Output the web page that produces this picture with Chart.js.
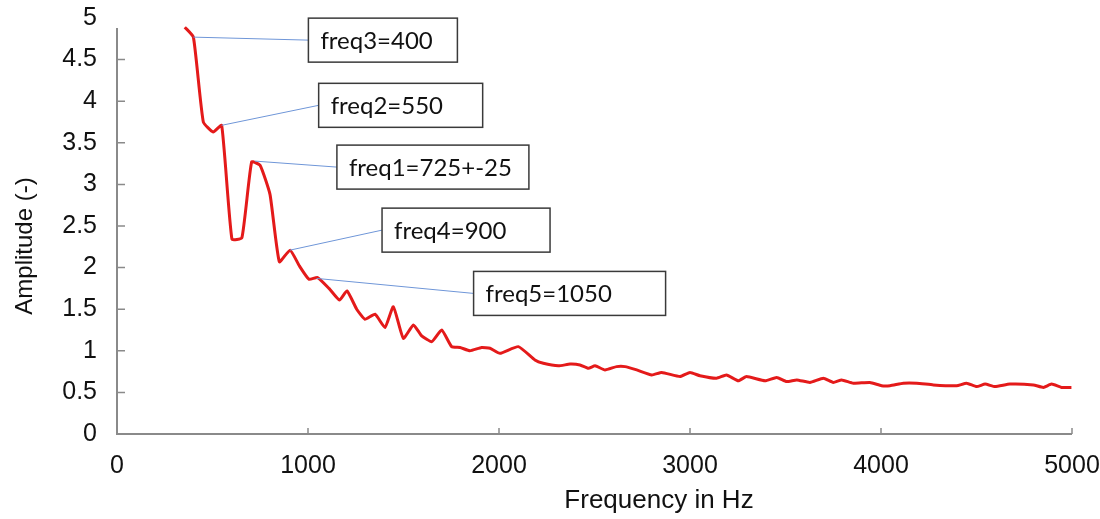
<!DOCTYPE html>
<html>
<head>
<meta charset="utf-8">
<script src="https://cdn.jsdelivr.net/npm/chart.js@4"></script>
<style>
  html, body { margin: 0; padding: 0; background: #fff; }
  #wrap { width: 1100px; height: 519px; }
</style>
</head>
<body>
<div id="wrap"><canvas id="spectrum" width="1100" height="519"></canvas></div>
<script>
// --- Data ---
const freqHz = [355, 400, 452, 504, 548, 602, 654, 705, 749, 801, 850, 906, 955, 1005, 1050,
    1110, 1165, 1204, 1255, 1298, 1351, 1403, 1447, 1499, 1552, 1595, 1648, 1700, 1752, 1796,
    1848, 1909, 1953, 2005, 2101, 2188, 2232, 2311, 2372, 2424, 2468, 2503, 2555, 2616, 2660,
    2721, 2800, 2852, 2948, 3000, 3052, 3139, 3191, 3253, 3296, 3393, 3454, 3506, 3559, 3628,
    3698, 3750, 3794, 3855, 3942, 4003, 4047, 4117, 4187, 4274, 4396, 4448, 4501, 4545, 4597,
    4675, 4798, 4850, 4893, 4945, 4997];
const amplitude = [4.89, 4.77, 3.75, 3.63, 3.71, 2.34, 2.36, 3.27, 3.23, 2.88, 2.07, 2.21, 2.02, 1.86, 1.88,
    1.75, 1.61, 1.72, 1.50, 1.38, 1.44, 1.28, 1.53, 1.15, 1.31, 1.18, 1.11, 1.25, 1.05, 1.04,
    1.00, 1.04, 1.03, 0.97, 1.05, 0.89, 0.85, 0.82, 0.84, 0.83, 0.79, 0.82, 0.77, 0.81, 0.81,
    0.77, 0.71, 0.74, 0.69, 0.74, 0.70, 0.67, 0.71, 0.64, 0.69, 0.64, 0.68, 0.63, 0.65, 0.62,
    0.67, 0.62, 0.65, 0.61, 0.62, 0.58, 0.58, 0.61, 0.61, 0.59, 0.58, 0.61, 0.57, 0.60, 0.57,
    0.60, 0.59, 0.56, 0.60, 0.56, 0.56];

const xTicks = [0, 1000, 2000, 3000, 4000, 5000];
const yTicks = [0, 0.5, 1, 1.5, 2, 2.5, 3, 3.5, 4, 4.5, 5];

// callouts: text and the point on the curve they point to
const noteText = ['freq3=400', 'freq2=550', 'freq1=725+-25', 'freq4=900', 'freq5=1050'];
const noteFreq = [400, 548, 722, 906, 1045];
const noteAmp = [4.77, 3.71, 3.28, 2.21, 1.87];
// box placement (px, relative to the anchor point)
const noteBox = [
    { dx: 115, dy: 3, w: 149 },
    { dx: 97, dy: -20, w: 164 },
    { dx: 82, dy: 6, w: 192 },
    { dx: 92, dy: -20, w: 168 },
    { dx: 157, dy: 15, w: 192 }
];

const AXIS_FONT = "'Liberation Sans', Arial, sans-serif";
const AXIS_GREY = '#8a8a8a';

// --- Extra drawing: inner tick marks, axis lines, titles, callouts ---
const decorPlugin = {
    id: 'decor',
    afterDraw(chart) {
        const { ctx, chartArea, scales } = chart;
        const xs = scales.x, ys = scales.y;
        const x0 = xs.getPixelForValue(0);
        const y0 = ys.getPixelForValue(0);
        ctx.save();

        // axis lines
        ctx.strokeStyle = AXIS_GREY;
        ctx.lineWidth = 2;
        ctx.beginPath();
        ctx.moveTo(x0, chartArea.top + 10);
        ctx.lineTo(x0, y0);
        ctx.lineTo(xs.getPixelForValue(5000), y0);
        ctx.stroke();

        // tick marks pointing inward
        ctx.lineWidth = 1.5;
        ctx.beginPath();
        yTicks.slice(1, -1).forEach(v => {
            const py = ys.getPixelForValue(v);
            ctx.moveTo(x0, py);
            ctx.lineTo(x0 + 8, py);
        });
        xTicks.slice(1).forEach(v => {
            const px = xs.getPixelForValue(v);
            ctx.moveTo(px, y0);
            ctx.lineTo(px, y0 - 6);
        });
        ctx.stroke();

        // axis titles
        ctx.fillStyle = '#111';
        ctx.font = `26px ${AXIS_FONT}`;
        ctx.textAlign = 'center';
        ctx.textBaseline = 'middle';
        ctx.fillText('Frequency in Hz', 659, 501);
        ctx.save();
        ctx.translate(25, 246);
        ctx.rotate(-Math.PI / 2);
        ctx.font = `24px ${AXIS_FONT}`;
        ctx.fillText('Amplitude (-)', 0, 0);
        ctx.restore();

        // callouts
        noteText.forEach((txt, i) => {
            const ax = xs.getPixelForValue(noteFreq[i]);
            const ay = ys.getPixelForValue(noteAmp[i]);
            const b = noteBox[i];
            const bx = ax + b.dx, by = ay + b.dy;
            ctx.strokeStyle = '#6f96d8';
            ctx.lineWidth = 1;
            ctx.beginPath();
            ctx.moveTo(ax, ay);
            ctx.lineTo(bx, by);
            ctx.stroke();

            ctx.fillStyle = '#fff';
            ctx.fillRect(bx, by - 22, b.w, 44);
            ctx.strokeStyle = '#3a3a3a';
            ctx.lineWidth = 1.5;
            ctx.strokeRect(bx, by - 22, b.w, 44);

            ctx.fillStyle = '#111';
            ctx.font = "24px Lato, 'Open Sans', sans-serif";
            ctx.textAlign = 'left';
            ctx.textBaseline = 'middle';
            ctx.fillText(txt, bx + 12, by + 1);
        });
        ctx.restore();
    }
};

const points = freqHz.map((f, i) => ({ x: f, y: amplitude[i] }));

new Chart(document.getElementById('spectrum'), {
    type: 'line',
    data: {
        datasets: [{
            data: points,
            borderColor: '#e41a1a',
            borderWidth: 3,
            pointRadius: 0,
            tension: 0.15,
            fill: false
        }]
    },
    options: {
        responsive: false,
        animation: false,
        layout: { padding: { top: 18, right: 28, left: 0, bottom: 0 } },
        plugins: { legend: { display: false }, tooltip: { enabled: false } },
        scales: {
            x: {
                type: 'linear',
                min: 0, max: 5000,
                afterBuildTicks: s => { s.ticks = xTicks.map(v => ({ value: v })); },
                afterFit: s => { s.height = 85; s.paddingLeft = 0; s.paddingRight = 0; },
                grid: { display: false, drawTicks: false },
                border: { display: false },
                ticks: {
                    color: '#111',
                    padding: 17,
                    maxRotation: 0,
                    font: { family: AXIS_FONT, size: 25 },
                    callback: v => String(v)
                }
            },
            y: {
                type: 'linear',
                min: 0, max: 5,
                afterBuildTicks: s => { s.ticks = yTicks.map(v => ({ value: v })); },
                afterFit: s => { s.width = 117; s.paddingTop = 0; s.paddingBottom = 0; },
                grid: { display: false, drawTicks: false },
                border: { display: false },
                ticks: {
                    color: '#111',
                    padding: 20,
                    font: { family: AXIS_FONT, size: 25 },
                    callback: v => String(v)
                }
            }
        }
    },
    plugins: [decorPlugin]
});
</script>
</body>
</html>
